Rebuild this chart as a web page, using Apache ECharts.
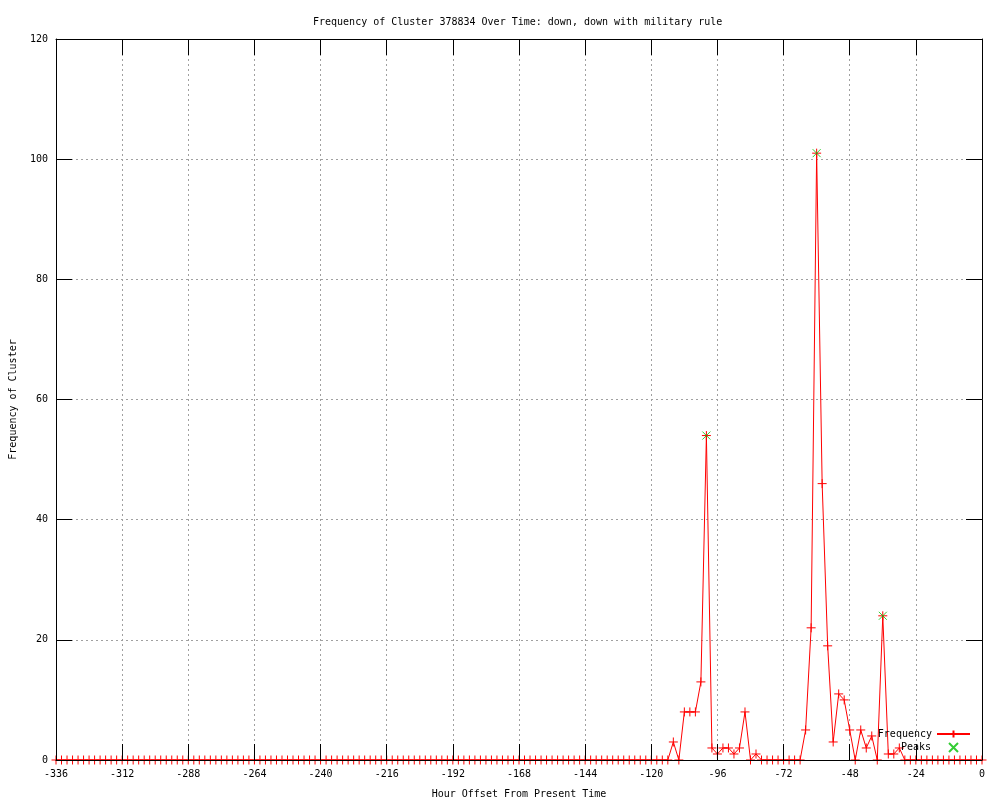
<!DOCTYPE html>
<html>
<head>
<meta charset="utf-8">
<script src="https://cdn.jsdelivr.net/npm/echarts@6/dist/echarts.min.js"></script>
<style>html,body{margin:0;padding:0;background:#fff}#c{width:1000px;height:800px}</style>
</head>
<body>
<div id="c"></div>
<script>
var hours = [
  -336,-334,-332,-330,-328,-326,-324,-322,-320,-318,-316,-314,
  -312,-310,-308,-306,-304,-302,-300,-298,-296,-294,-292,-290,
  -288,-286,-284,-282,-280,-278,-276,-274,-272,-270,-268,-266,
  -264,-262,-260,-258,-256,-254,-252,-250,-248,-246,-244,-242,
  -240,-238,-236,-234,-232,-230,-228,-226,-224,-222,-220,-218,
  -216,-214,-212,-210,-208,-206,-204,-202,-200,-198,-196,-194,
  -192,-190,-188,-186,-184,-182,-180,-178,-176,-174,-172,-170,
  -168,-166,-164,-162,-160,-158,-156,-154,-152,-150,-148,-146,
  -144,-142,-140,-138,-136,-134,-132,-130,-128,-126,-124,-122,
  -120,-118,-116,-114,-112,-110,-108,-106,-104,-102,-100,-98,
  -96,-94,-92,-90,-88,-86,-84,-82,-80,-78,-76,-74,
  -72,-70,-68,-66,-64,-62,-60,-58,-56,-54,-52,-50,
  -48,-46,-44,-42,-40,-38,-36,-34,-32,-30,-28,-26,
  -24,-22,-20,-18,-16,-14,-12,-10,-8,-6,-4,-2,
  0
];
var frequency = [
  0,0,0,0,0,0,0,0,0,0,0,0,
  0,0,0,0,0,0,0,0,0,0,0,0,
  0,0,0,0,0,0,0,0,0,0,0,0,
  0,0,0,0,0,0,0,0,0,0,0,0,
  0,0,0,0,0,0,0,0,0,0,0,0,
  0,0,0,0,0,0,0,0,0,0,0,0,
  0,0,0,0,0,0,0,0,0,0,0,0,
  0,0,0,0,0,0,0,0,0,0,0,0,
  0,0,0,0,0,0,0,0,0,0,0,0,
  0,0,0,0,3,0,8,8,8,13,54,2,
  1,2,2,1,2,8,0,1,0,0,0,0,
  0,0,0,0,5,22,101,46,19,3,11,10,
  5,0,5,2,4,0,24,1,1,2,0,0,
  0,0,0,0,0,0,0,0,0,0,0,0,
  0
];
var peakHours = [-100, -60, -36];
var peakValues = [54, 101, 24];
var xTicks = { min: -336, max: 0, interval: 24 };
var yTicks = { min: 0, max: 120, interval: 20 };

var freqData = hours.map(function (h, i) { return [h, frequency[i]]; });
var peakData = peakHours.map(function (h, i) { return [h, peakValues[i]]; });

var FONT = 'DejaVu Sans Mono';
var txt = { fontFamily: FONT, fontSize: 10, color: '#000' };
var plus = 'path://M0,5L10,5M5,0L5,10';
var cross = 'path://M0,0L10,10M10,0L0,10';
var splitStyle = { show: true, lineStyle: { color: '#a0a0a0', width: 1, type: [2, 3] } };
var tick = { show: true, inside: true, length: 16, lineStyle: { color: '#000', width: 1 } };
var aLine = { show: true, onZero: false, lineStyle: { color: '#000', width: 1 } };

var chart = echarts.init(document.getElementById('c'), null, { renderer: 'canvas' });
chart.setOption({
  animation: false,
  backgroundColor: '#fff',
  title: {
    text: 'Frequency of Cluster 378834 Over Time: down, down with military rule',
    left: 308, top: 12,
    textStyle: { fontFamily: FONT, fontSize: 10, fontWeight: 'normal', color: '#000' }
  },
  grid: { left: 56, right: 18, top: 39, bottom: 40, containLabel: false, outerBoundsMode: 'none' },
  legend: [
    {
      data: ['Frequency'], orient: 'vertical', align: 'right', right: 24, top: 724,
      itemWidth: 33, itemHeight: 9, textStyle: txt, selectedMode: false
    },
    {
      data: ['Peaks'], orient: 'vertical', align: 'right', right: 36, top: 737,
      itemWidth: 9, itemHeight: 9, selectedMode: false,
      textStyle: Object.assign({ padding: [0, 13, 0, 0] }, txt)
    }
  ],
  xAxis: [
    {
      type: 'value', position: 'bottom', min: xTicks.min, max: xTicks.max, interval: xTicks.interval,
      z: 5, axisLine: aLine, axisTick: tick, splitLine: { show: false },
      axisLabel: Object.assign({ margin: 9 }, txt),
      name: 'Hour Offset From Present Time', nameLocation: 'middle', nameGap: 29,
      nameTextStyle: txt
    },
    {
      type: 'value', position: 'top', min: xTicks.min, max: xTicks.max, interval: xTicks.interval,
      axisLine: aLine, axisTick: tick, splitLine: splitStyle, axisLabel: { show: false }
    }
  ],
  yAxis: [
    {
      type: 'value', position: 'left', min: yTicks.min, max: yTicks.max, interval: yTicks.interval,
      axisLine: aLine, axisTick: tick, splitLine: splitStyle,
      axisLabel: Object.assign({ margin: 8 }, txt),
      name: 'Frequency of Cluster', nameLocation: 'middle', nameGap: 38, nameRotate: 90,
      nameTextStyle: txt
    },
    {
      type: 'value', position: 'right', min: yTicks.min, max: yTicks.max, interval: yTicks.interval,
      axisLine: aLine, axisTick: tick, splitLine: { show: false }, axisLabel: { show: false }
    }
  ],
  series: [
    {
      name: 'Frequency', type: 'line', data: freqData, xAxisIndex: 0, yAxisIndex: 0,
      showSymbol: true, showAllSymbol: true, symbol: plus, symbolSize: 9,
      lineStyle: { color: '#ff0000', width: 1 },
      itemStyle: { color: 'rgba(0,0,0,0)', borderColor: '#ff0000', borderWidth: 1 },
      emphasis: { disabled: true }, z: 2
    },
    {
      name: 'Peaks', type: 'scatter', data: peakData, xAxisIndex: 0, yAxisIndex: 0,
      symbol: cross, symbolSize: 8,
      itemStyle: { color: 'rgba(0,0,0,0)', borderColor: '#00c000', borderWidth: 1 },
      emphasis: { disabled: true }, z: 3
    }
  ]
});
</script>
</body>
</html>
